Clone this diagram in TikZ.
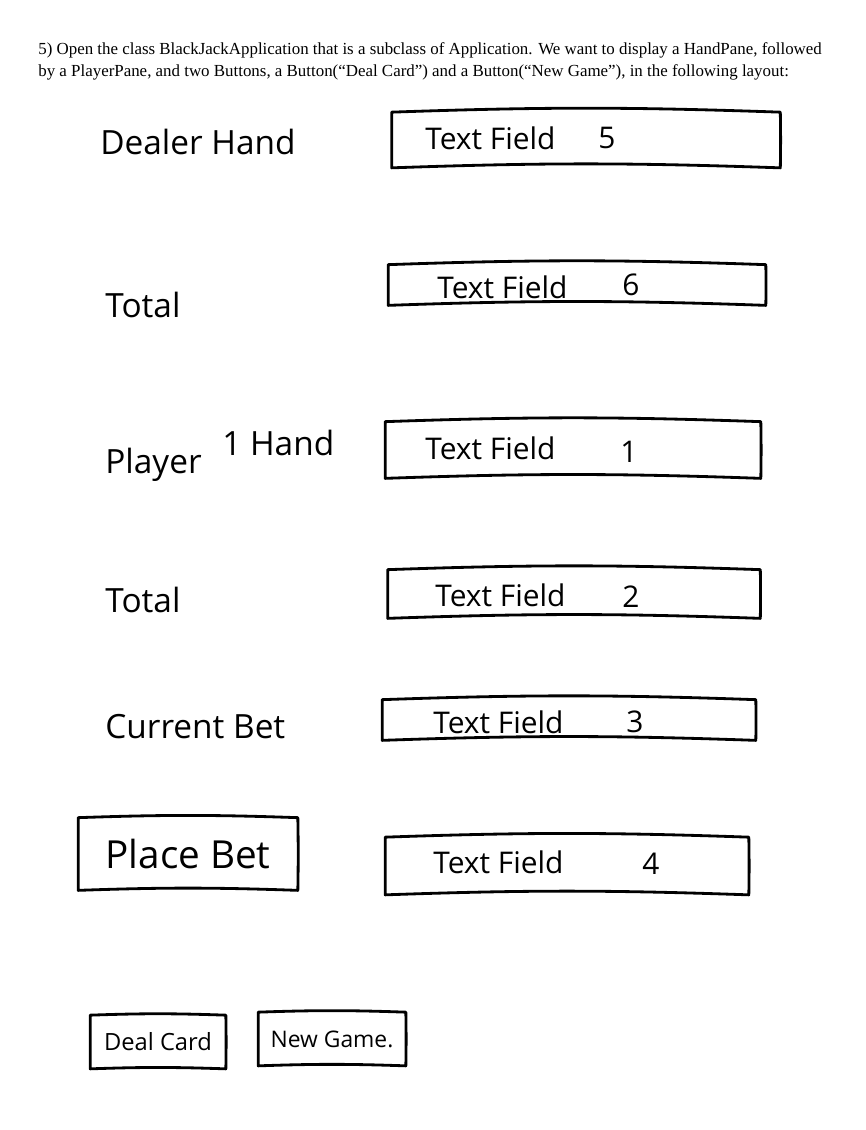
\documentclass[tikz,border=0pt]{standalone}
\usepackage{fontspec}
\setmainfont{Liberation Serif}
\newfontfamily\handfont{Open Sans}
\usepackage{tikz}
\usetikzlibrary{positioning,calc}

\tikzset{
  pen/.style={line width=1.6pt, line join=round, line cap=round},
  fieldbox/.style={inner sep=0pt, minimum width=#1},
  label/.style={anchor=west, inner sep=0pt, font=\handfont\fontsize{19}{21}\selectfont},
  fieldtext/.style={anchor=west, inner sep=0pt, font=\handfont\fontsize{17}{19}\selectfont},
}
% wobbly outline round a named node
\newcommand{\sketchbox}[1]{%
  \draw[pen] (#1.north west) to[bend left=2] (#1.north east)
    to[bend left=1] (#1.south east) to[bend right=2] (#1.south west) -- cycle;}

\begin{document}
\begin{tikzpicture}[x=0.02cm, y=-0.02cm]
            \useasboundingbox (0,0) rectangle (866,1130);

            % Question
            \node[anchor=base west, inner sep=0pt, font=\fontsize{9.62}{12}\selectfont] (q1) at (38,54)
              {5) Open the class BlackJackApplication that is a subclass of Application. We want to display a HandPane, followed};
            \node[anchor=base west, inner sep=0pt, font=\fontsize{9.62}{12}\selectfont] (q2) at (38,76)
              {by a PlayerPane, and two Buttons, a Button(``Deal Card'') and a Button(``New Game''), in the following layout:};

            % Labels
            \node[label] (dealer) at (100,142) {Dealer Hand};
            \node[label] (total1) at (105,305) {Total};
            \node[label] (player) at (105,465) {Player};
            \node[label] (hand1) at (222,443) {1 Hand};
            \node[label] (total2) at (105,600) {Total};
            \node[label] (bet) at (105,727) {Current Bet};

            % Text fields
            \node[fieldbox=7.76cm, minimum height=1.1cm] (f5) at (586,140) {};
            \node[fieldbox=7.54cm, minimum height=0.8cm] (f6) at (577,285) {};
            \node[fieldbox=7.5cm, minimum height=1.12cm] (f1) at (573,450) {};
            \node[fieldbox=7.44cm, minimum height=0.96cm] (f2) at (574,594) {};
            \node[fieldbox=7.46cm, minimum height=0.8cm] (f3) at (569,720) {};
            \node[fieldbox=7.26cm, minimum height=1.14cm] (f4) at (567,866) {};
            \foreach \f in {f5,f6,f1,f2,f3,f4} {\sketchbox{\f}}

            \node[fieldtext] (t5) at (425,138) {Text Field};
            \node[fieldtext] (d5) at (598,138) {5};
            \node[fieldtext] (t6) at (437,287) {Text Field};
            \node[fieldtext] (d6) at (622,285) {6};
            \node[fieldtext] (t1) at (425,448) {Text Field};
            \node[fieldtext] (d1) at (620,452) {1};
            \node[fieldtext] (t2) at (435,595) {Text Field};
            \node[fieldtext] (d2) at (622,597) {2};
            \node[fieldtext] (t3) at (433,722) {Text Field};
            \node[fieldtext] (d3) at (626,722) {3};
            \node[fieldtext] (t4) at (433,862) {Text Field};
            \node[fieldtext] (d4) at (642,864) {4};

            % Buttons
            \node[fieldbox=4.38cm, minimum height=1.44cm, font=\handfont\fontsize{22}{24}\selectfont] (place) at (188,854) {Place Bet};
            \node[fieldbox=2.7cm, minimum height=1.06cm, font=\handfont\fontsize{13.5}{15}\selectfont] (deal) at (158,1042) {Deal Card};
            \node[fieldbox=2.94cm, minimum height=1.06cm, font=\handfont\fontsize{13}{15}\selectfont] (new) at (332,1039) {New Game.};
            \foreach \b in {place,deal,new} {\sketchbox{\b}}
\end{tikzpicture}
\end{document}
